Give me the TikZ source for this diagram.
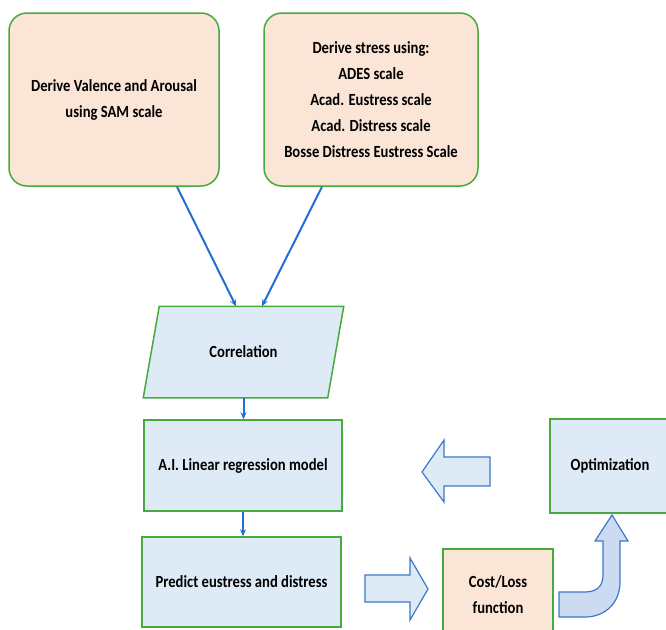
\documentclass[tikz,border=0pt]{standalone}
\usepackage{fontspec}
\setmainfont{Carlito}[FakeStretch=0.86]
\usetikzlibrary{arrows.meta,backgrounds}
\definecolor{peach}{RGB}{251,229,214}
\definecolor{paleblue}{RGB}{222,235,247}
\definecolor{bentblue}{RGB}{205,219,242}
\definecolor{boxgreen}{RGB}{70,170,60}
\definecolor{linkblue}{RGB}{35,110,210}
\definecolor{arrowblue}{RGB}{60,120,200}
\tikzset{
  box/.style={draw=boxgreen, line width=1.5pt, align=center, font=\fontsize{17}{26}\selectfont\bfseries, inner sep=2pt},
  inbox/.style={box, fill=peach, rounded corners=18pt, minimum width=210pt, minimum height=173pt},
  stepbox/.style={box, fill=paleblue, minimum width=199pt, minimum height=90pt},
  link/.style={draw=linkblue, line width=2pt, -{Stealth[length=7pt,width=6pt]}},
  bigarrow/.style={draw=arrowblue, line width=1.2pt, fill=paleblue, line join=miter}
}
\begin{document}
\begin{tikzpicture}[x=1pt,y=-1pt]
\useasboundingbox (0,0) rectangle (666,629);
\clip (0,0) rectangle (666,629);
\node[inbox] (sam) at (114,99.5) {Derive Valence and Arousal\\using SAM scale};
\node[inbox, minimum width=214pt] (stress) at (371,99.5) {Derive stress using:\\ADES scale\\Acad. Eustress scale\\Acad. Distress scale\\Bosse Distress Eustress Scale};
\node[box, draw=none, minimum width=199pt, minimum height=90pt] (corr) at (243.5,352) {Correlation};
\begin{scope}[on background layer]
\draw[box, fill=paleblue] ([xshift=16pt]corr.north west) -- (corr.north east) -- ([xshift=-16pt]corr.south east) -- (corr.south west) -- cycle;
\end{scope}
\node[stepbox, minimum width=198pt, minimum height=91pt] (ai) at (243,465.5) {A.I. Linear regression model};
\node[stepbox] (predict) at (241.5,582) {Predict eustress and distress};
\node[box, fill=peach, minimum width=110pt, minimum height=91pt] (cost) at (498,594.5) {Cost/Loss\\function};
\node[stepbox, minimum width=120pt, minimum height=94pt] (opt) at (610,466) {Optimization};
\draw[link] ([xshift=63pt]sam.south) -- ([xshift=-7.5pt]corr.north);
\draw[link] ([xshift=-49pt]stress.south) -- ([xshift=18.5pt]corr.north);
\draw[link] (corr.south) -- (corr.south |- ai.north);
\draw[link] (ai.south) -- (ai.south |- predict.north);
\draw[bigarrow] (365,575) -- (410,575) -- (410,558) -- (428,589) -- (410,620) -- (410,602) -- (365,602) -- cycle;
\draw[bigarrow] (490,457) -- (444,457) -- (444,440) -- (422,472) -- (444,502) -- (444,486) -- (490,486) -- cycle;
\draw[bigarrow, fill=bentblue] (559,592) -- (585,592) .. controls (597,592) and (603,586) .. (603,575) -- (603,541) -- (595,541) -- (612,515) -- (628,541) -- (620,541) -- (620,582) .. controls (620,603) and (605,617) .. (585,617) -- (559,617) -- cycle;
\end{tikzpicture}
\end{document}
